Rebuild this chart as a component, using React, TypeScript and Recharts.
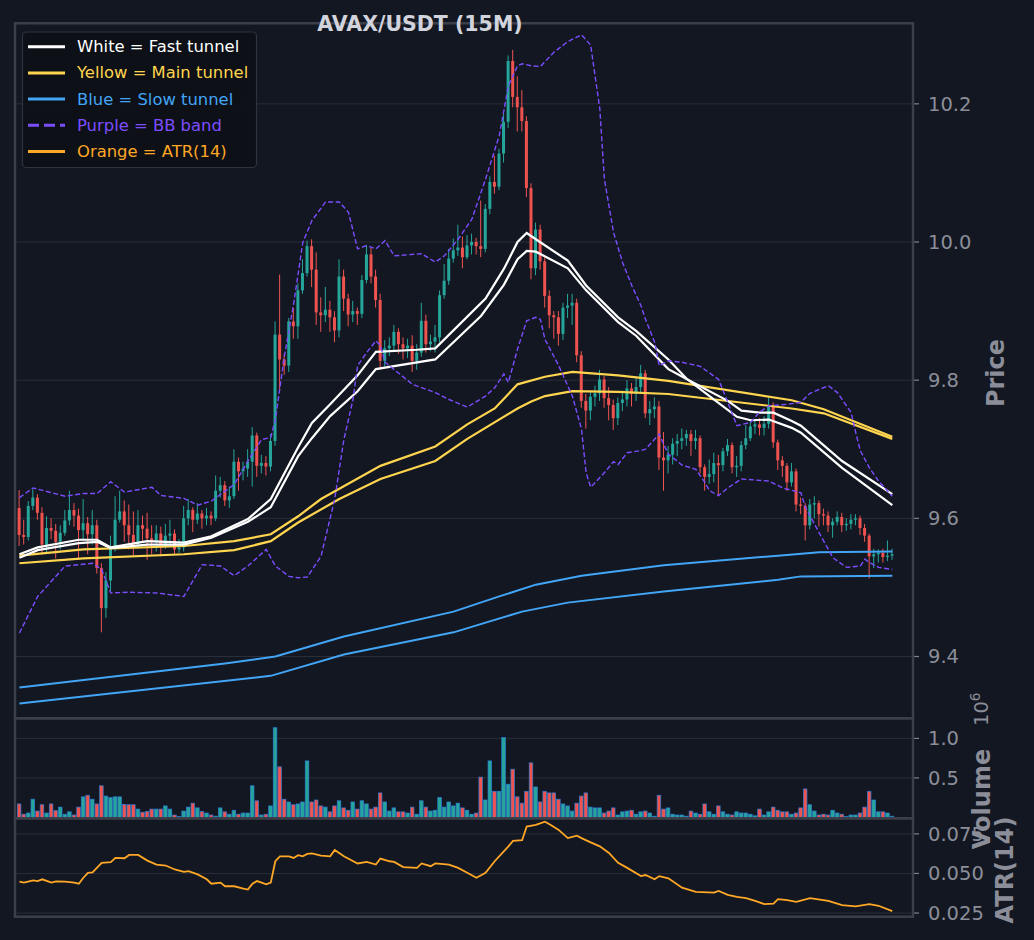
import { type FunctionComponent } from "react";
import { Bar, CartesianGrid, ComposedChart, Line, XAxis, YAxis } from "recharts";

// 15 minute candles, index 0..191, open = previous close
const firstOpen = 9.615;

const closes = [
  9.576, 9.573, 9.618, 9.630, 9.608, 9.562, 9.586, 9.582, 9.566, 9.579,
  9.597, 9.612, 9.604, 9.583, 9.593, 9.577, 9.590, 9.528, 9.470, 9.510,
  9.560, 9.598, 9.610, 9.590, 9.576, 9.562, 9.590, 9.585, 9.571, 9.566,
  9.578, 9.560, 9.575, 9.578, 9.555, 9.558, 9.600, 9.612, 9.598, 9.607,
  9.600, 9.604, 9.600, 9.640, 9.648, 9.626, 9.632, 9.682, 9.668, 9.672,
  9.682, 9.720, 9.676, 9.680, 9.675, 9.712, 9.866, 9.830, 9.821, 9.885,
  9.878, 9.930, 9.955, 9.994, 9.960, 9.898, 9.894, 9.902, 9.891, 9.872,
  9.950, 9.918, 9.895, 9.900, 9.896, 9.945, 9.982, 9.950, 9.916, 9.828,
  9.846, 9.850, 9.870, 9.852, 9.846, 9.850, 9.828, 9.840, 9.886, 9.852,
  9.856, 9.862, 9.923, 9.944, 9.976, 9.988, 9.992, 9.978, 9.995, 10.000,
  9.994, 9.990, 10.048, 10.087, 10.080, 10.128, 10.174, 10.262, 10.210, 10.195,
  10.175, 10.078, 9.962, 10.018, 9.972, 9.922, 9.894, 9.891, 9.867, 9.905,
  9.908, 9.912, 9.836, 9.770, 9.756, 9.776, 9.781, 9.801, 9.774, 9.764,
  9.745, 9.767, 9.772, 9.788, 9.780, 9.790, 9.810, 9.752, 9.758, 9.762,
  9.688, 9.684, 9.692, 9.708, 9.712, 9.716, 9.722, 9.712, 9.716, 9.674,
  9.660, 9.664, 9.680, 9.677, 9.697, 9.706, 9.674, 9.676, 9.706, 9.716,
  9.733, 9.736, 9.731, 9.737, 9.762, 9.710, 9.684, 9.676, 9.652, 9.668,
  9.620, 9.618, 9.590, 9.620, 9.622, 9.606, 9.604, 9.590, 9.595, 9.602,
  9.590, 9.592, 9.598, 9.600, 9.586, 9.575, 9.545, 9.548, 9.550, 9.544,
  9.546, 9.548,
];

const highs = [
  9.641, 9.598, 9.625, 9.642, 9.635, 9.616, 9.603, 9.600, 9.592, 9.590,
  9.612, 9.640, 9.622, 9.614, 9.628, 9.602, 9.612, 9.598, 9.535, 9.522,
  9.575, 9.632, 9.640, 9.626, 9.620, 9.610, 9.612, 9.604, 9.608, 9.590,
  9.590, 9.588, 9.592, 9.598, 9.584, 9.570, 9.618, 9.628, 9.616, 9.622,
  9.612, 9.615, 9.610, 9.662, 9.660, 9.654, 9.646, 9.700, 9.688, 9.682,
  9.700, 9.732, 9.724, 9.692, 9.690, 9.722, 9.885, 9.953, 9.838, 9.890,
  9.905, 9.940, 9.975, 10.002, 10.004, 9.985, 9.920, 9.935, 9.915, 9.900,
  9.975, 9.960, 9.925, 9.915, 9.905, 9.952, 9.995, 9.992, 9.960, 9.925,
  9.858, 9.862, 9.880, 9.875, 9.862, 9.860, 9.865, 9.852, 9.912, 9.895,
  9.866, 9.880, 9.930, 9.968, 9.990, 10.005, 10.025, 10.008, 10.010, 10.012,
  10.006, 10.060, 10.055, 10.095, 10.125, 10.135, 10.185, 10.270, 10.278, 10.240,
  10.220, 10.182, 10.085, 10.028, 10.025, 9.978, 9.930, 9.900, 9.900, 9.912,
  9.925, 9.925, 9.918, 9.842, 9.780, 9.785, 9.792, 9.815, 9.806, 9.790,
  9.772, 9.775, 9.785, 9.800, 9.796, 9.805, 9.822, 9.815, 9.770, 9.775,
  9.770, 9.725, 9.705, 9.716, 9.722, 9.730, 9.728, 9.728, 9.728, 9.720,
  9.678, 9.685, 9.695, 9.692, 9.702, 9.715, 9.710, 9.690, 9.712, 9.735,
  9.740, 9.742, 9.745, 9.748, 9.775, 9.768, 9.714, 9.690, 9.680, 9.680,
  9.672, 9.630, 9.622, 9.628, 9.632, 9.626, 9.614, 9.610, 9.600, 9.610,
  9.608, 9.600, 9.606, 9.606, 9.604, 9.592, 9.578, 9.556, 9.555, 9.556,
  9.568, 9.556,
];

const lows = [
  9.560, 9.562, 9.568, 9.612, 9.598, 9.548, 9.550, 9.570, 9.542, 9.555,
  9.575, 9.590, 9.588, 9.540, 9.570, 9.548, 9.562, 9.520, 9.435, 9.456,
  9.492, 9.552, 9.594, 9.566, 9.555, 9.545, 9.556, 9.566, 9.540, 9.548,
  9.552, 9.545, 9.556, 9.560, 9.548, 9.550, 9.552, 9.590, 9.580, 9.592,
  9.585, 9.590, 9.590, 9.596, 9.630, 9.618, 9.615, 9.628, 9.640, 9.655,
  9.660, 9.646, 9.660, 9.665, 9.662, 9.668, 9.705, 9.785, 9.808, 9.812,
  9.860, 9.860, 9.925, 9.950, 9.935, 9.880, 9.870, 9.884, 9.870, 9.855,
  9.862, 9.900, 9.878, 9.884, 9.880, 9.890, 9.940, 9.940, 9.905, 9.815,
  9.820, 9.835, 9.842, 9.838, 9.830, 9.832, 9.812, 9.815, 9.834, 9.840,
  9.842, 9.840, 9.855, 9.918, 9.938, 9.970, 9.980, 9.962, 9.975, 9.982,
  9.982, 9.978, 9.985, 10.040, 10.070, 10.075, 10.115, 10.165, 10.195, 10.160,
  10.160, 10.065, 9.946, 9.952, 9.960, 9.905, 9.875, 9.860, 9.850, 9.858,
  9.890, 9.880, 9.826, 9.760, 9.730, 9.742, 9.762, 9.770, 9.760, 9.742,
  9.728, 9.735, 9.755, 9.762, 9.762, 9.770, 9.780, 9.745, 9.735, 9.745,
  9.670, 9.640, 9.665, 9.678, 9.690, 9.700, 9.705, 9.690, 9.700, 9.665,
  9.640, 9.650, 9.652, 9.632, 9.668, 9.690, 9.665, 9.660, 9.668, 9.700,
  9.712, 9.722, 9.720, 9.720, 9.730, 9.702, 9.670, 9.660, 9.640, 9.646,
  9.610, 9.606, 9.568, 9.584, 9.600, 9.588, 9.590, 9.580, 9.572, 9.590,
  9.580, 9.582, 9.584, 9.590, 9.576, 9.566, 9.513, 9.528, 9.536, 9.536,
  9.538, 9.540,
];

// volume in units of 10^6
const volumes = [
  0.17, 0.04, 0.055, 0.23, 0.08, 0.16, 0.055, 0.17, 0.085, 0.13,
  0.04, 0.07, 0.03, 0.13, 0.26, 0.28, 0.23, 0.17, 0.40, 0.27,
  0.25, 0.26, 0.26, 0.165, 0.16, 0.16, 0.105, 0.065, 0.075, 0.105,
  0.105, 0.105, 0.145, 0.105, 0.03, 0.01, 0.08, 0.13, 0.18, 0.12,
  0.075, 0.055, 0.03, 0.015, 0.12, 0.07, 0.04, 0.09, 0.04, 0.055,
  0.055, 0.40, 0.21, 0.03, 0.04, 0.145, 1.135, 0.64, 0.23, 0.195,
  0.16, 0.17, 0.195, 0.715, 0.195, 0.22, 0.145, 0.13, 0.07, 0.145,
  0.21, 0.12, 0.09, 0.195, 0.105, 0.21, 0.17, 0.105, 0.13, 0.31,
  0.195, 0.08, 0.12, 0.07, 0.07, 0.055, 0.13, 0.04, 0.21, 0.13,
  0.08, 0.09, 0.25, 0.13, 0.195, 0.145, 0.18, 0.12, 0.09, 0.04,
  0.055, 0.51, 0.22, 0.715, 0.33, 0.33, 1.01, 0.42, 0.61, 0.26,
  0.18, 0.33, 0.69, 0.385, 0.195, 0.33, 0.31, 0.31, 0.23, 0.17,
  0.145, 0.08, 0.18, 0.27, 0.31, 0.13, 0.12, 0.12, 0.055, 0.08,
  0.12, 0.03, 0.07, 0.08, 0.09, 0.04, 0.07, 0.08, 0.055, 0.015,
  0.28, 0.105, 0.12, 0.04, 0.03, 0.03, 0.015, 0.08, 0.055, 0.04,
  0.17, 0.07, 0.04, 0.145, 0.07, 0.04, 0.03, 0.07, 0.055, 0.055,
  0.04, 0.02, 0.105, 0.03, 0.07, 0.13, 0.09, 0.07, 0.07, 0.04,
  0.055, 0.12, 0.36, 0.16, 0.08, 0.03, 0.04, 0.03, 0.09, 0.055,
  0.04, 0.01, 0.03, 0.03, 0.055, 0.13, 0.33, 0.22, 0.07, 0.07,
  0.055, 0.015,
];

// overlay lines: [candle index, value]
const fastUpper: [number, number][] = [
  [0, 9.548], [4, 9.558], [13, 9.569], [17, 9.569], [20, 9.558], [28, 9.567], [36, 9.565],
  [42, 9.574], [50, 9.599], [55, 9.628], [61, 9.703], [64, 9.738], [68, 9.765], [74, 9.807],
  [78, 9.841], [87, 9.844], [91, 9.846], [102, 9.918], [106, 9.961], [109, 10.0], [111, 10.013],
  [113, 10.004], [120, 9.973], [124, 9.937], [131, 9.891], [135, 9.871], [142, 9.830],
  [146, 9.802], [151, 9.777], [157, 9.747], [160, 9.742], [164, 9.743], [169, 9.731],
  [171, 9.724], [180, 9.673], [191, 9.619],
];
const fastLower: [number, number][] = [
  [0, 9.543], [4, 9.554], [13, 9.564], [17, 9.566], [20, 9.557], [28, 9.562], [36, 9.562],
  [42, 9.572], [50, 9.595], [55, 9.616], [61, 9.690], [64, 9.716], [68, 9.748], [74, 9.784],
  [78, 9.816], [91, 9.830], [101, 9.893], [106, 9.938], [109, 9.975], [111, 9.987],
  [113, 9.986], [120, 9.962], [124, 9.930], [131, 9.884], [135, 9.864], [142, 9.816],
  [147, 9.798], [155, 9.770], [158, 9.756], [162, 9.753], [165, 9.753], [169, 9.741],
  [171, 9.734], [180, 9.683], [191, 9.635],
];
const mainUpper: [number, number][] = [
  [0, 9.546], [14, 9.555], [36, 9.560], [47, 9.567], [55, 9.577], [61, 9.603], [66, 9.628],
  [79, 9.676], [91, 9.704], [98, 9.736], [104, 9.759], [109, 9.794], [115, 9.805],
  [121, 9.812], [131, 9.807], [142, 9.799], [169, 9.771], [176, 9.758], [191, 9.718],
];
const mainLower: [number, number][] = [
  [0, 9.535], [14, 9.542], [36, 9.548], [47, 9.554], [55, 9.567], [61, 9.594], [70, 9.628],
  [79, 9.657], [91, 9.683], [98, 9.715], [109, 9.759], [112, 9.769], [115, 9.777],
  [121, 9.784], [131, 9.783], [142, 9.780], [169, 9.759], [176, 9.752], [191, 9.715],
];
const slowUpper: [number, number][] = [
  [0, 9.355], [45, 9.390], [56, 9.400], [71, 9.429], [95, 9.465], [105, 9.487], [113, 9.504],
  [123, 9.517], [141, 9.532], [166, 9.546], [175, 9.551], [191, 9.552],
];
const slowLower: [number, number][] = [
  [0, 9.332], [55, 9.372], [71, 9.403], [95, 9.435], [110, 9.465], [120, 9.478], [141, 9.494],
  [166, 9.511], [171, 9.516], [191, 9.517],
];
const bbUpper: [number, number][] = [
  [0, 9.630], [3, 9.644], [10, 9.632], [14, 9.636], [17, 9.636], [20, 9.653], [23, 9.638],
  [29, 9.645], [31, 9.633], [36, 9.629], [39, 9.619], [42, 9.625], [47, 9.649], [50, 9.683],
  [53, 9.714], [55, 9.717], [56, 9.743], [58, 9.835], [60, 9.910], [62, 9.999], [64, 10.031],
  [67, 10.058], [70, 10.058], [72, 10.043], [74, 9.990], [76, 9.995], [78, 9.990], [80, 10.002],
  [82, 9.980], [88, 9.983], [91, 9.971], [93, 9.980], [96, 10.004], [99, 10.033], [102, 10.091],
  [105, 10.154], [107, 10.226], [109, 10.255], [110, 10.258], [112, 10.255], [114, 10.254],
  [117, 10.275], [120, 10.290], [123, 10.300], [125, 10.285], [127, 10.193], [128, 10.091],
  [130, 10.014], [132, 9.970], [134, 9.937], [136, 9.908], [137, 9.888], [139, 9.855],
  [140, 9.821], [142, 9.828], [145, 9.826], [149, 9.820], [153, 9.801], [155, 9.768],
  [157, 9.734], [160, 9.739], [162, 9.754], [164, 9.763], [168, 9.765], [171, 9.768],
  [173, 9.781], [177, 9.792], [179, 9.782], [182, 9.753], [183, 9.724], [184, 9.698],
  [186, 9.673], [188, 9.654], [191, 9.632],
];
const bbLower: [number, number][] = [
  [0, 9.434], [4, 9.487], [10, 9.531], [16, 9.535], [18, 9.526], [20, 9.492], [24, 9.493],
  [30, 9.492], [36, 9.487], [40, 9.533], [44, 9.531], [47, 9.517], [50, 9.531], [54, 9.555],
  [56, 9.531], [59, 9.516], [61, 9.514], [63, 9.515], [66, 9.545], [69, 9.628], [71, 9.714],
  [73, 9.772], [74, 9.821], [76, 9.840], [78, 9.857], [79, 9.850], [80, 9.826], [86, 9.794],
  [91, 9.782], [94, 9.772], [98, 9.761], [102, 9.777], [104, 9.789], [106, 9.809], [107, 9.797],
  [109, 9.845], [111, 9.886], [113, 9.891], [114, 9.888], [115, 9.859], [118, 9.821],
  [121, 9.777], [123, 9.729], [124, 9.666], [125, 9.645], [128, 9.666], [130, 9.682],
  [131, 9.678], [133, 9.695], [136, 9.698], [137, 9.700], [140, 9.722], [141, 9.707],
  [142, 9.693], [145, 9.677], [148, 9.671], [150, 9.652], [151, 9.640], [153, 9.633],
  [155, 9.644], [158, 9.657], [164, 9.654], [167, 9.644], [171, 9.637], [172, 9.616],
  [175, 9.579], [178, 9.543], [181, 9.529], [184, 9.531], [185, 9.541], [186, 9.536],
  [188, 9.529], [191, 9.526],
];
const atr14: [number, number][] = [
  [0, 0.0448], [1, 0.0442], [3, 0.0456], [4, 0.0452], [5, 0.0463], [7, 0.0442], [8, 0.0450],
  [10, 0.0448], [12, 0.0442], [13, 0.0435], [14, 0.0473], [15, 0.0504], [16, 0.0506],
  [18, 0.0567], [20, 0.0571], [21, 0.0598], [23, 0.0596], [24, 0.0617], [26, 0.0617],
  [28, 0.0581], [30, 0.0556], [32, 0.0550], [34, 0.0525], [36, 0.0510], [37, 0.0515],
  [39, 0.0494], [41, 0.0463], [42, 0.0435], [44, 0.0442], [45, 0.0419], [47, 0.0419],
  [49, 0.0404], [50, 0.0398], [51, 0.0435], [52, 0.0452], [53, 0.0442], [54, 0.0431],
  [55, 0.0442], [56, 0.0577], [57, 0.0608], [59, 0.0608], [60, 0.0598], [61, 0.0615],
  [62, 0.0608], [63, 0.0623], [64, 0.0627], [66, 0.0613], [68, 0.0608], [69, 0.0648],
  [71, 0.0608], [74, 0.0563], [76, 0.0573], [78, 0.0556], [79, 0.0594], [81, 0.0577],
  [82, 0.0573], [84, 0.0540], [87, 0.0535], [88, 0.0563], [90, 0.0546], [91, 0.0563],
  [94, 0.0556], [96, 0.0535], [98, 0.0504], [100, 0.0473], [102, 0.0504], [104, 0.0577],
  [107, 0.0671], [108, 0.0706], [110, 0.0710], [111, 0.0796], [113, 0.0806], [115, 0.0827],
  [116, 0.0810], [118, 0.0775], [120, 0.0723], [122, 0.0738], [123, 0.0723], [125, 0.0696],
  [127, 0.0671], [129, 0.0629], [131, 0.0567], [133, 0.0535], [136, 0.0483], [137, 0.0490],
  [139, 0.0463], [140, 0.0483], [142, 0.0469], [145, 0.0410], [148, 0.0383], [152, 0.0379],
  [153, 0.0390], [155, 0.0365], [157, 0.0352], [159, 0.0344], [161, 0.0327], [163, 0.0306],
  [165, 0.0310], [166, 0.0338], [168, 0.0331], [170, 0.0321], [173, 0.0344], [177, 0.0327],
  [180, 0.0300], [183, 0.0292], [186, 0.0306], [188, 0.0296], [191, 0.0262],
];

const priceTicks = [9.4, 9.6, 9.8, 10.0, 10.2];
const volumeTicks = [0.5, 1.0];
const atrTicks = [0.025, 0.05, 0.075];
const timeGrid = [23.16, 47.22, 71.28, 95.34, 119.4, 143.46, 167.52, 191.58];

const legendItems = [
  { label: "White = Fast tunnel", color: "#ffffff", dashed: false },
  { label: "Yellow = Main tunnel", color: "#ffd54f", dashed: false },
  { label: "Blue = Slow tunnel", color: "#42a5f5", dashed: false },
  { label: "Purple = BB band", color: "#7c4dff", dashed: true },
  { label: "Orange = ATR(14)", color: "#ffa726", dashed: false },
];

const BG = "#131722";
const GRID = "#2a2e39";
const SPINE = "#3b3f4a";
const TEXT = "#8b8e98";
const UP = "#26a69a";
const DOWN = "#ef5350";
const FONT = "DejaVu Sans";

const X_DOMAIN: [number, number] = [-0.963, 195.53];
const AXIS_W = 121;
const LEFT = 15;

type Row = Record<string, number | [number, number] | undefined> & {
  i: number; open: number; close: number; high: number; low: number; volume: number;
};

const rows: Row[] = closes.map((close, i) => ({
  i,
  open: i === 0 ? firstOpen : closes[i - 1]!,
  close,
  high: highs[i]!,
  low: lows[i]!,
  range: [lows[i]!, highs[i]!],
  volume: volumes[i]!,
}));

const overlays: Record<string, [number, number][]> = {
  fastUpper, fastLower, mainUpper, mainLower, slowUpper, slowLower, bbUpper, bbLower, atr: atr14,
};
for(const [key, points] of Object.entries(overlays))
{
  for(const [i, v] of points)
  {
    rows[i]![key] = v;
  }
}

const Candle = (props: any) =>
{
  const { x, y, width, height, payload } = props;
  const { open, close, high, low } = payload as Row;
  const top = Math.min(y, y + height);
  const bottom = Math.max(y, y + height);
  const span = high - low || 1;
  const toPx = (v: number) => top + ((high - v) / span) * (bottom - top);
  const cx = x + width / 2;
  const color = close >= open ? UP : DOWN;
  const bodyTop = toPx(Math.max(open, close));
  const bodyBottom = toPx(Math.min(open, close));
  return (
    <g>
      <line x1={cx} x2={cx} y1={top} y2={bottom} stroke={color} strokeWidth={1}/>
      <rect x={cx - 1.5} y={bodyTop} width={3} height={Math.max(bodyBottom - bodyTop, 0.8)} fill={color}/>
    </g>
  );
};

const VolumeBar = (props: any) =>
{
  const { x, y, width, height, payload } = props;
  const { open, close } = payload as Row;
  const top = Math.min(y, y + height);
  const h = Math.abs(height);
  const cx = x + width / 2;
  return (
    <rect x={cx - 1.8} y={top} width={3.6} height={h} fill={close >= open ? UP : DOWN}
      stroke="#2b7cd3" strokeWidth={0.7}/>
  );
};

const tickStyle = { fill: TEXT, fontSize: 19.5, fontFamily: FONT };

const timeAxis = (
  <XAxis
    dataKey="i"
    type="number"
    domain={X_DOMAIN}
    ticks={timeGrid}
    allowDataOverflow
    tick={false}
    tickLine={false}
    axisLine={false}
    height={0}
  />
);

const valueAxis = (domain: [number, number], ticks: number[], digits: number) => (
  <YAxis
    orientation="right"
    type="number"
    domain={domain}
    ticks={ticks}
    interval={0}
    allowDataOverflow
    width={AXIS_W}
    axisLine={false}
    tickLine={{ stroke: "#80848e", strokeWidth: 1.2 }}
    tickSize={6}
    tickMargin={9}
    tick={tickStyle}
    tickFormatter={(v: number) => v.toFixed(digits)}
  />
);

const lineProps = {
  type: "linear" as const,
  dot: false,
  activeDot: false,
  connectNulls: true,
  isAnimationActive: false,
};

const PriceChart: FunctionComponent = () => (
  <ComposedChart width={1034} height={718} data={rows} margin={{ top: 23, right: 0, bottom: 0, left: LEFT }}>
    <CartesianGrid stroke={GRID} strokeWidth={1}/>
    {timeAxis}
    {valueAxis([9.311, 10.317], priceTicks, 1)}
    <Bar dataKey="range" barSize={4} shape={Candle} isAnimationActive={false}/>
    <Line dataKey="slowUpper" stroke="#42a5f5" strokeWidth={2} {...lineProps}/>
    <Line dataKey="slowLower" stroke="#42a5f5" strokeWidth={2} {...lineProps}/>
    <Line dataKey="mainUpper" stroke="#ffd54f" strokeWidth={2.2} {...lineProps}/>
    <Line dataKey="mainLower" stroke="#ffd54f" strokeWidth={2.2} {...lineProps}/>
    <Line dataKey="fastUpper" stroke="#ffffff" strokeWidth={2.2} {...lineProps}/>
    <Line dataKey="fastLower" stroke="#ffffff" strokeWidth={2.2} {...lineProps}/>
    <Line dataKey="bbUpper" stroke="#7c4dff" strokeWidth={1.4} strokeDasharray="5 2.5" {...lineProps}/>
    <Line dataKey="bbLower" stroke="#7c4dff" strokeWidth={1.4} strokeDasharray="5 2.5" {...lineProps}/>
  </ComposedChart>
);

const VolumeChart: FunctionComponent = () => (
  <ComposedChart width={1034} height={100} data={rows} margin={{ top: 0, right: 0, bottom: 0, left: LEFT }}>
    <CartesianGrid stroke={GRID} strokeWidth={1}/>
    {timeAxis}
    {valueAxis([-0.008, 1.258], volumeTicks, 1)}
    <Bar dataKey="volume" barSize={4} shape={VolumeBar} isAnimationActive={false}/>
  </ComposedChart>
);

// extra bottom margin keeps the lowest tick label inside the svg
const AtrChart: FunctionComponent = () => (
  <ComposedChart width={1034} height={121} data={rows} margin={{ top: 0, right: 0, bottom: 22, left: LEFT }}>
    <CartesianGrid stroke={GRID} strokeWidth={1}/>
    {timeAxis}
    {valueAxis([0.0225, 0.085], atrTicks, 3)}
    <Line dataKey="atr" stroke="#ffa726" strokeWidth={1.8} {...lineProps}/>
  </ComposedChart>
);

const Overlay: FunctionComponent = () => (
  <svg width={1034} height={940} style={{ position: "absolute", left: 0, top: 0, pointerEvents: "none" }}>
    <g fill="none" stroke={SPINE} strokeWidth={2.5}>
      <rect x={15} y={23.3} width={898} height={695}/>
      <rect x={15} y={718.3} width={898} height={100}/>
      <rect x={15} y={818.3} width={898} height={98.4}/>
    </g>
    <text x={420} y={31} textAnchor="middle" fill="#d1d4dc" fontFamily={FONT} fontWeight="bold" fontSize={20.5}>
      AVAX/USDT (15M)
    </text>
    <g fontFamily={FONT} fontWeight="bold" fontSize={24} fill={TEXT} textAnchor="middle">
      <text transform="translate(1004, 373) rotate(-90)">Price</text>
      <text transform="translate(990, 799) rotate(-90)">Volume</text>
      <text transform="translate(1013, 870) rotate(-90)">ATR(14)</text>
    </g>
    <text transform="translate(988, 726) rotate(-90)" fontFamily={FONT} fontSize={19.5} fill={TEXT}>
      10<tspan dy={-8} fontSize={13.6}>6</tspan>
    </text>
    <rect x={22.5} y={32} width={234} height={135.5} rx={4} fill="#0d1016" fillOpacity={0.92}
      stroke="#2f333d" strokeWidth={1.2}/>
    {legendItems.map((item, k) =>
    {
      const cy = 46.7 + k * 26.2;
      return (
        <g key={item.label}>
          <line x1={28} x2={65} y1={cy} y2={cy} stroke={item.color} strokeWidth={3}
            strokeDasharray={item.dashed ? "11 5" : undefined}/>
          <text x={77} y={cy} dominantBaseline="central" fill={item.color} fontFamily={FONT} fontSize={16.4}>
            {item.label}
          </text>
        </g>
      );
    })}
  </svg>
);

const App: FunctionComponent = () => (
  <div style={{ position: "absolute", left: 0, top: 0, width: 1034, height: 940, background: BG, overflow: "hidden" }}>
    <div style={{ position: "absolute", left: 0, top: 0 }}>
      <PriceChart/>
    </div>
    <div style={{ position: "absolute", left: 0, top: 718 }}>
      <VolumeChart/>
    </div>
    <div style={{ position: "absolute", left: 0, top: 818 }}>
      <AtrChart/>
    </div>
    <Overlay/>
  </div>
);

export default App;
